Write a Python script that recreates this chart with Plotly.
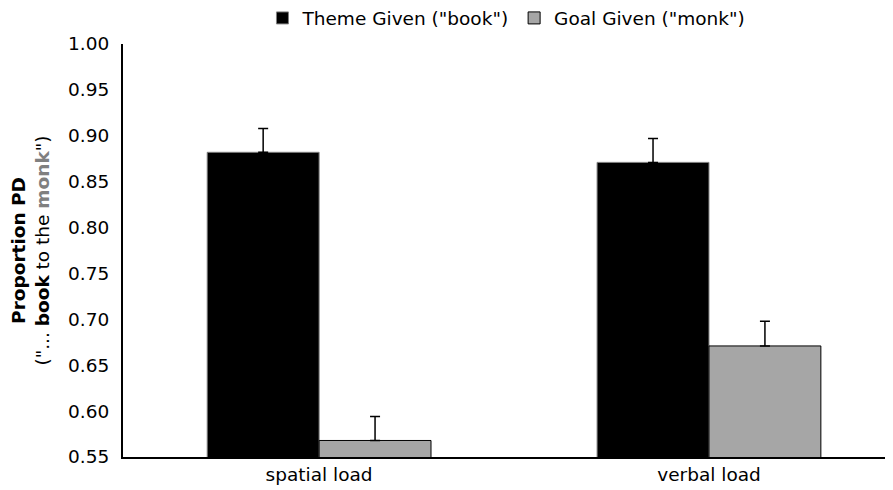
import plotly.graph_objects as go

categories = ["spatial load", "verbal load"]
theme_vals = [0.882, 0.871]
theme_err = [0.026, 0.026]
goal_vals = [0.568, 0.671]
goal_err = [0.026, 0.027]
no_err = [0, 0]
y_ticks = [0.55, 0.60, 0.65, 0.70, 0.75, 0.80, 0.85, 0.90, 0.95, 1.00]

font = "DejaVu Sans, Verdana, sans-serif"
fs = 18.5

fig = go.Figure()
fig.add_trace(go.Bar(
    x=categories, y=theme_vals, name='Theme Given ("book")',
    marker=dict(color="#000000", line=dict(color="#7f7f7f", width=1)),
    error_y=dict(type="data", array=theme_err, arrayminus=no_err, symmetric=False, visible=True,
                 color="#000000", thickness=1.5, width=5),
))
fig.add_trace(go.Bar(
    x=categories, y=goal_vals, name='Goal Given ("monk")',
    marker=dict(color="#a6a6a6", line=dict(color="#000000", width=1)),
    error_y=dict(type="data", array=goal_err, arrayminus=no_err, symmetric=False, visible=True,
                 color="#000000", thickness=1.5, width=5),
))

fig.update_layout(
    width=885, height=482,
    margin=dict(l=115, r=0, t=36, b=33, autoexpand=False),
    paper_bgcolor="white", plot_bgcolor="white",
    barmode="group", bargap=0.426, bargroupgap=0,
    font=dict(family=font, size=fs, color="#000000"),
    legend=dict(orientation="h", x=0.498, xanchor="center", y=1.062, yanchor="middle",
                font=dict(size=fs), traceorder="normal", itemwidth=30,
                bgcolor="rgba(0,0,0,0)"),
    showlegend=True,
)
fig.update_xaxes(range=[-0.503, 1.472], showline=True, linecolor="#000000", linewidth=2,
                 ticks="", showgrid=False, tickfont=dict(size=fs))
fig.update_yaxes(range=[0.55, 1.0], tickvals=y_ticks, tickformat=".2f",
                 showline=True, linecolor="#000000", linewidth=2, ticks="", showgrid=False,
                 zeroline=False, tickfont=dict(size=fs), ticklabelstandoff=8,
                 title=dict(text="<b>Proportion PD</b><br>(\"... <b>book</b> to the <b><span style='color:#808080'>monk</span></b>\")",
                            font=dict(size=fs), standoff=14))

fig.write_html("out.html")
